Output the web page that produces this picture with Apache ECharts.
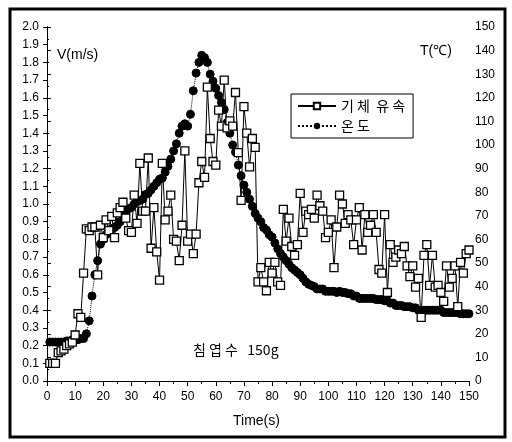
<!DOCTYPE html>
<html>
<head>
<meta charset="utf-8">
<script src="https://cdn.jsdelivr.net/npm/echarts@6/dist/echarts.min.js"></script>
<style>
  html, body { margin: 0; padding: 0; background: #fff; }
  #chart { width: 512px; height: 442px; }
</style>
</head>
<body>
<div id="chart"></div>
<script>
// time in seconds, one sample per second
const times = Array.from({ length: 150 }, (_, i) => i + 1)

// gas velocity V (m/s), read from the open squares
const velocity = [
  0.10, 0.10, 0.10, 0.16, 0.17, 0.18, 0.20, 0.21, 0.22, 0.26,
  0.38, 0.36, 0.61, 0.86, 0.85, 0.87, 0.87, 0.60, 0.88, 0.81,
  0.91, 0.85, 0.93, 0.81, 0.95, 0.98, 1.01, 0.92, 0.85, 0.84,
  1.05, 0.89, 1.23, 0.96, 0.96, 1.26, 0.75, 0.98, 0.73, 0.57,
  1.23, 0.91, 0.96, 1.05, 0.80, 0.79, 0.68, 0.88, 1.30, 0.79,
  0.83, 0.72, 0.83, 1.12, 1.24, 1.15, 1.66, 1.37, 1.24, 1.22,
  1.53, 1.44, 1.70, 1.43, 1.47, 1.44, 1.63, 1.29, 1.02, 1.55,
  1.40, 1.21, 1.37, 1.32, 0.56, 0.64, 0.56, 0.51, 0.67, 0.61,
  0.67, 0.56, 0.54, 0.97, 0.79, 0.92, 0.76, 0.71, 0.77, 1.06,
  0.84, 0.96, 0.94, 0.97, 0.92, 1.05, 0.99, 0.96, 0.81, 0.84,
  0.91, 0.64, 0.87, 1.05, 1.00, 0.89, 0.94, 0.91, 0.77, 0.91,
  0.98, 0.74, 0.94, 0.84, 0.88, 0.94, 0.84, 0.63, 0.61, 0.94,
  0.50, 0.77, 0.67, 0.70, 0.74, 0.72, 0.76, 0.65, 0.59, 0.65,
  0.53, 0.58, 0.36, 0.71, 0.77, 0.54, 0.71, 0.53, 0.54, 0.50,
  0.45, 0.65, 0.53, 0.58, 0.65, 0.42, 0.67, 0.61, 0.72, 0.74
]

// temperature T (°C)
const temperature = [
  16.5, 16.5, 16.5, 16.5, 16.5, 16.5, 17, 17, 17.5, 17.5,
  17.5, 18, 18, 20, 25.5, 36, 45, 51, 58, 60,
  62, 64, 64.5, 65, 66, 67.5, 69, 71, 73, 73.5,
  75, 76, 76.5, 77, 79, 79.5, 81, 82.5, 84, 85.5,
  86, 88.5, 91, 94, 97.5, 100.5, 105, 108, 109, 108,
  113, 123, 130.5, 135, 138, 137, 135, 130, 127, 124,
  121, 118, 115, 109.5, 105, 100, 97, 91.5, 87, 83,
  80, 77, 74, 71, 69, 67.5, 65, 64, 62, 61,
  58.5, 56, 54, 52.5, 51, 49.5, 48, 47, 46, 45,
  43.5, 42, 41, 40.5, 40, 39, 39, 39, 38, 38,
  38, 38, 37.5, 38, 37.5, 37.5, 37, 37, 36, 36,
  35, 35, 35, 35, 35, 35, 34.5, 34.5, 34.5, 34,
  34, 33, 33, 32, 32, 32, 31.5, 31.5, 31.5, 31,
  31, 30, 30, 30, 30, 30, 30, 30, 30, 30,
  29, 29, 29, 29, 29, 29, 28.5, 28.5, 28.5, 28.5
]

const seriesNames = ['기 체  유 속', '온 도']

const latin = 'Liberation Sans, Arial, sans-serif'
const korean = 'Noto Sans CJK KR, sans-serif'

const chart = echarts.init(document.getElementById('chart'))

const axisBase = {
  axisLine: { show: true, lineStyle: { color: '#000', width: 1 } },
  splitLine: { show: false },
  axisLabel: { color: '#000', fontFamily: latin, fontSize: 12 }
}

chart.setOption({
  animation: false,
  backgroundColor: '#fff',
  grid: { left: 47, right: 43, top: 27, bottom: 61 },
  legend: {
    orient: 'vertical',
    left: 291,
    top: 94,
    padding: [5, 8, 5, 6],
    itemGap: 6,
    itemWidth: 38,
    itemHeight: 8,
    borderColor: '#000',
    borderWidth: 1,
    textStyle: { fontFamily: korean, fontSize: 14, color: '#000' },
    data: seriesNames
  },
  xAxis: [
    {
      ...axisBase,
      type: 'value',
      min: 0,
      max: 150,
      interval: 10,
      axisTick: { show: true, length: 5, lineStyle: { color: '#000' } },
      minorTick: { show: true, splitNumber: 2, length: 3, lineStyle: { color: '#000' } },
      axisLabel: { ...axisBase.axisLabel, margin: 10 }
    },
    {
      ...axisBase,
      type: 'value',
      position: 'top',
      min: 0,
      max: 150,
      interval: 10,
      axisTick: { show: true, inside: true, length: 5, lineStyle: { color: '#000' } },
      minorTick: { show: true, splitNumber: 2, length: 3, lineStyle: { color: '#000' } },
      axisLabel: { show: false }
    }
  ],
  yAxis: [
    {
      ...axisBase,
      type: 'value',
      min: 0,
      max: 2,
      interval: 0.1,
      axisTick: { show: true, length: 4, lineStyle: { color: '#000' } },
      axisLabel: { ...axisBase.axisLabel, margin: 8, formatter: v => v.toFixed(1) }
    },
    {
      ...axisBase,
      type: 'value',
      position: 'right',
      min: 0,
      max: 150,
      interval: 10,
      axisTick: { show: true, length: 4, lineStyle: { color: '#000' } },
      minorTick: { show: true, splitNumber: 2, length: 2, lineStyle: { color: '#000' } },
      axisLabel: { ...axisBase.axisLabel, margin: 6 }
    }
  ],
  graphic: [
    {
      type: 'rect',
      shape: { x: 10, y: 9, width: 495, height: 428 },
      style: { fill: 'none', stroke: '#000', lineWidth: 3 }
    },
    {
      type: 'text', left: 57, top: 48,
      style: { text: 'V(m/s)', font: '14px ' + latin, fill: '#000' }
    },
    {
      type: 'text', left: 420, top: 44,
      style: { text: 'T(℃)', font: '14px ' + latin, fill: '#000' }
    },
    {
      type: 'text', left: 193, top: 343,
      style: { text: '침 엽 수   150g', font: '14px ' + korean, fill: '#000' }
    },
    {
      type: 'text', left: 233, top: 414,
      style: { text: 'Time(s)', font: '14px ' + latin, fill: '#000' }
    }
  ],
  series: [
    {
      name: seriesNames[0],
      type: 'line',
      xAxisIndex: 0,
      yAxisIndex: 0,
      data: times.map((t, i) => [t, velocity[i]]),
      symbol: 'rect',
      symbolSize: 8,
      itemStyle: { color: '#fff', borderColor: '#000', borderWidth: 1.3 },
      lineStyle: { color: '#000', width: 1 },
      z: 3
    },
    {
      name: seriesNames[1],
      type: 'line',
      xAxisIndex: 0,
      yAxisIndex: 1,
      data: times.map((t, i) => [t, temperature[i]]),
      symbol: 'circle',
      symbolSize: 8,
      itemStyle: { color: '#000', borderColor: '#000' },
      lineStyle: { color: '#000', width: 1, type: 'dotted' },
      z: 2
    }
  ]
})
</script>
</body>
</html>
